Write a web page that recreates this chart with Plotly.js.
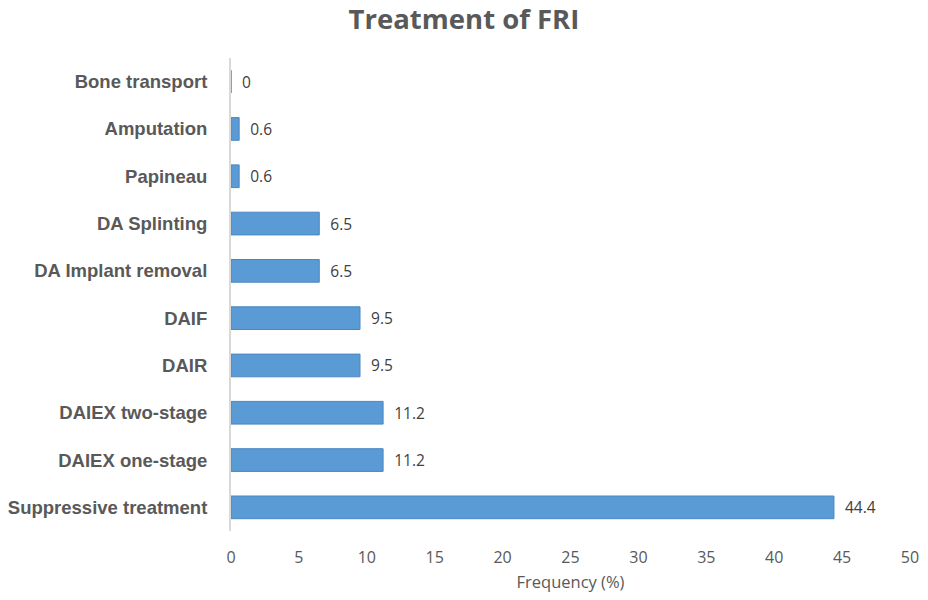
<!DOCTYPE html>
<html>
<head>
<meta charset="utf-8">
<script src="https://cdn.plot.ly/plotly-3.0.1.min.js"></script>
<style>html,body{margin:0;padding:0;background:#fff;}#chart{width:928px;height:600px;}</style>
</head>
<body>
<div id="chart"></div>
<script>
const categories = ["Bone transport", "Amputation", "Papineau", "DA Splinting", "DA Implant removal", "DAIF", "DAIR", "DAIEX two-stage", "DAIEX one-stage", "Suppressive treatment"];
const values = [0, 0.6, 0.6, 6.5, 6.5, 9.5, 9.5, 11.2, 11.2, 44.4];
const xTicks = [0, 5, 10, 15, 20, 25, 30, 35, 40, 45, 50];

const trace = {
  type: 'bar',
  orientation: 'h',
  y: categories,
  x: values,
  text: values.map(v => '\u00a0\u00a0' + String(v)),
  textposition: 'outside',
  constraintext: 'none',
  cliponaxis: false,
  textfont: {family: 'Open Sans, sans-serif', size: 15.5, color: '#404040'},
  marker: {color: '#5b9bd5', line: {color: '#4a86c2', width: 1}},
  hoverinfo: 'none'
};

const layout = {
  width: 928, height: 600,
  margin: {l: 231, r: 18, t: 58, b: 69},
  paper_bgcolor: '#ffffff', plot_bgcolor: '#ffffff',
  bargap: 0.52,
  showlegend: false,
  title: {text: '<b>Treatment of FRI</b>', x: 0.5, xanchor: 'center', y: 0.968, yanchor: 'middle',
    font: {family: 'Open Sans, sans-serif', size: 27.5, color: '#595959'}},
  xaxis: {
    range: [0, 50], tickvals: xTicks, ticktext: xTicks.map(String),
    showgrid: false, zeroline: false, showline: false,
    ticks: 'outside', ticklen: 12, tickcolor: 'rgba(0,0,0,0)',
    tickfont: {family: 'Open Sans, sans-serif', size: 16, color: '#595959'},
    title: {text: 'Frequency (%)', standoff: 9, font: {family: 'Open Sans, sans-serif', size: 16.5, color: '#595959'}},
    fixedrange: true
  },
  yaxis: {
    type: 'category', autorange: 'reversed',
    showgrid: false, zeroline: false,
    showline: true, linecolor: '#d9d9d9', linewidth: 2,
    ticks: 'outside', ticklen: 18, tickcolor: 'rgba(0,0,0,0)',
    tickfont: {family: 'Liberation Sans, Arial, sans-serif', size: 18.5, color: '#595959', weight: 'bold'},
    fixedrange: true
  }
};

Plotly.newPlot('chart', [trace], layout, {displayModeBar: false, staticPlot: true});
</script>
</body>
</html>
